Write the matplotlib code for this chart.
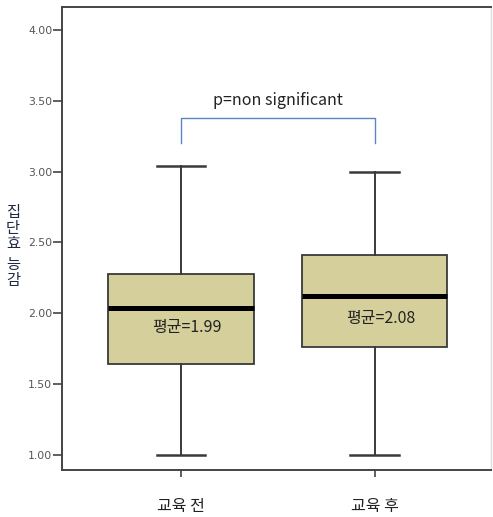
import matplotlib
matplotlib.use("Agg")
import matplotlib.pyplot as plt

plt.rcParams['font.family'] = ['Noto Sans CJK KR', 'DejaVu Sans']

categories = ['교육 전', '교육 후']
q1 = [1.64, 1.76]
q3 = [2.28, 2.41]
medians = [2.035, 2.12]
whisker_low = [1.00, 1.00]
whisker_high = [3.04, 3.00]
means = [1.99, 2.08]
ytick_vals = [1.00, 1.50, 2.00, 2.50, 3.00, 3.50, 4.00]
p_label = 'p=non significant'
ylabel = '집단효능감'

W, H = 493, 517
fig = plt.figure(figsize=(W/100, H/100), dpi=100)
ax = fig.add_axes([62/W, 1-470/H, (491-62)/W, (470-7)/H])

stats = []
for i in range(len(categories)):
    stats.append(dict(med=medians[i], q1=q1[i], q3=q3[i],
                      whislo=whisker_low[i], whishi=whisker_high[i],
                      fliers=[], label=categories[i]))

positions = [1, 2]
ax.bxp(stats, positions=positions, widths=0.75, patch_artist=True,
       showfliers=False,
       boxprops=dict(facecolor='#d4cf9b', edgecolor='#3a3a3a', linewidth=1.3),
       medianprops=dict(color='black', linewidth=3.6),
       whiskerprops=dict(color='#3a3a3a', linewidth=1.4),
       capprops=dict(color='#3a3a3a', linewidth=1.8),
       capwidths=0.25)

label_offsets = [-0.135, -0.16]
for i, pos in enumerate(positions):
    ax.text(pos + 0.03, medians[i] + label_offsets[i], f'평균={means[i]:.2f}',
            ha='center', va='center', fontsize=11.5, color='#222222')

# significance bracket
bx = [positions[0], positions[0], positions[1], positions[1]]
by = [3.20, 3.377, 3.377, 3.20]
ax.plot(bx, by, color='#5a86c4', linewidth=1.0)
ax.text((positions[0] + positions[1]) / 2, 3.50, p_label, ha='center', va='center',
        fontsize=11.5, color='#222222')

ax.set_xlim(0.387, 2.60)
ax.set_ylim(0.894, 4.162)
ax.set_yticks(ytick_vals)
ax.set_yticklabels([f'{v:.2f}' for v in ytick_vals], fontsize=7.8, color='#555555',
                   family=['DejaVu Sans'])
ax.set_xticks(positions)
ax.set_xticklabels(categories, fontsize=11.5, color='#222222')
ax.tick_params(axis='y', length=6.5, width=1.2, color='#444444', pad=0.5)
ax.tick_params(axis='x', length=5, width=1.2, color='#444444', pad=15)
for s in ax.spines.values():
    s.set_color('#444444')
    s.set_linewidth(1.4)
ax.spines['right'].set_color('#dddddd')
ax.spines['right'].set_linewidth(1.0)

# vertical stacked y-axis title (upright characters)
char_y = [212, 228, 244, 265, 281]
for ch, yy in zip(ylabel, char_y):
    fig.text(13/W, 1-yy/H, ch, ha='center', va='center', fontsize=11,
             fontweight='medium', color='#1f2a44')

fig.savefig('out.png', dpi=100)
